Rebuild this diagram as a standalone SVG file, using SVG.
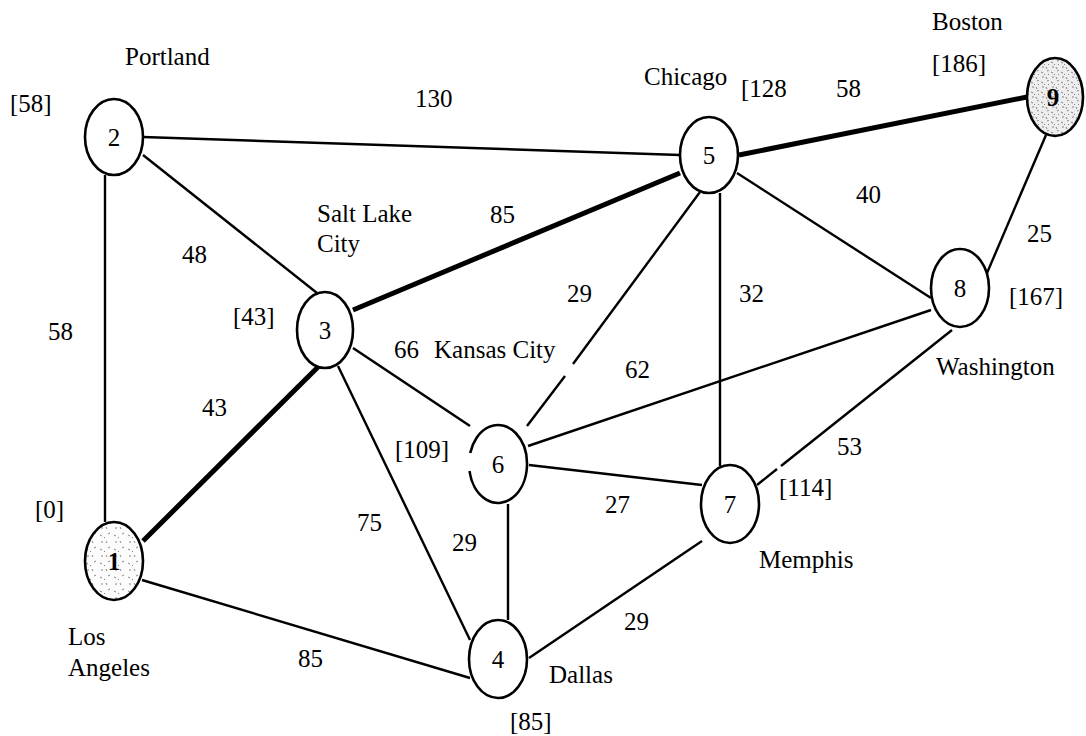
<svg xmlns="http://www.w3.org/2000/svg" width="1086" height="736" viewBox="0 0 1086 736">
<style>
text{font-family:"Liberation Serif","Times New Roman",serif;font-size:25px;fill:#000}
.n{text-anchor:middle}
.e{stroke:#000;stroke-width:2.4;fill:none;stroke-linecap:butt}
.t{stroke:#000;stroke-width:5;fill:none}
.node{fill:#fff;stroke:#000;stroke-width:2.6}
</style>
<defs>
<pattern id="sp1" width="14" height="14" patternUnits="userSpaceOnUse">
<rect width="14" height="14" fill="#fcfcfc"/>
<path d="M2 3l2 1M8 9l1 2M10 2l2-1M3 10l2 0M6 5l1 1" stroke="#666" stroke-width="0.8"/>
</pattern>
<pattern id="sp9" width="10" height="10" patternUnits="userSpaceOnUse">
<rect width="10" height="10" fill="#eeeeee"/>
<path d="M1 2l2 1M6 7l1 2M7 1l2-1M2 7l2 0M4 4l1 1M8 5l1-1" stroke="#555" stroke-width="0.7"/>
</pattern>
</defs>
<rect width="1086" height="736" fill="#fff"/>
<g id="edges">
<line class="e" x1="105" y1="175" x2="105" y2="522"/>
<line class="e" x1="143" y1="137" x2="680" y2="155"/>
<line class="e" x1="143" y1="155" x2="317" y2="293"/>
<line class="t" x1="143" y1="541" x2="318" y2="367"/>
<line class="e" x1="142" y1="580" x2="470" y2="678"/>
<line class="e" x1="338" y1="366" x2="470" y2="640"/>
<line class="t" x1="353" y1="310" x2="680" y2="173"/>
<line class="e" x1="353" y1="348" x2="470" y2="426"/>
<line class="e" x1="700" y1="192" x2="573" y2="364"/>
<line class="e" x1="565" y1="376" x2="527" y2="426"/>
<line class="e" x1="720" y1="193" x2="720" y2="466"/>
<line class="e" x1="737" y1="173" x2="931" y2="298"/>
<line class="t" x1="739" y1="155" x2="1027" y2="97"/>
<line class="e" x1="508" y1="504" x2="508" y2="620"/>
<line class="e" x1="529" y1="465" x2="702" y2="485"/>
<line class="e" x1="528" y1="446" x2="931" y2="310"/>
<line class="e" x1="529" y1="658" x2="702" y2="541"/>
<line class="e" x1="757" y1="485" x2="777" y2="469"/>
<line class="e" x1="781" y1="466" x2="952" y2="330"/>
<line class="e" x1="987" y1="273" x2="1046" y2="135"/>
</g>
<g id="node1"><ellipse class="node" cx="114" cy="561" rx="29" ry="39" style="fill:url(#sp1)"/><text class="n" x="114" y="570" font-weight="bold">1</text></g>
<g id="node2"><ellipse class="node" cx="114" cy="137" rx="29" ry="38"/><text class="n" x="114" y="146">2</text></g>
<g id="node3"><ellipse class="node" cx="325" cy="330" rx="28" ry="38"/><text class="n" x="325" y="339">3</text></g>
<g id="node4"><ellipse class="node" cx="498" cy="659" rx="29" ry="39"/><text class="n" x="498" y="668">4</text></g>
<g id="node5"><ellipse class="node" cx="709" cy="155" rx="29" ry="38"/><text class="n" x="709" y="164">5</text></g>
<g id="node6"><ellipse cx="498" cy="464" rx="29" ry="39" fill="#fff"/><path class="node" d="M470.2 453 A29 39 0 1 1 469.5 471" style="fill:none"/><text class="n" x="498" y="473">6</text></g>
<g id="node7"><ellipse class="node" cx="730" cy="504" rx="29" ry="39"/><text class="n" x="730" y="513">7</text></g>
<g id="node8"><ellipse class="node" cx="960" cy="288" rx="29" ry="39"/><text class="n" x="960" y="297">8</text></g>
<g id="node9"><ellipse class="node" cx="1055" cy="97" rx="28" ry="39" style="fill:url(#sp9)"/><text class="n" x="1053" y="106" font-weight="bold">9</text></g>
<g id="labels">
<text x="125" y="65">Portland</text>
<text x="10" y="112">[58]</text>
<text x="415" y="107">130</text>
<text x="644" y="85">Chicago</text>
<text x="741" y="97">[128</text>
<text x="836" y="97">58</text>
<text x="932" y="30">Boston</text>
<text x="932" y="72">[186]</text>
<text x="317" y="222">Salt Lake</text>
<text x="317" y="252">City</text>
<text x="490" y="223">85</text>
<text x="182" y="263">48</text>
<text x="856" y="203">40</text>
<text x="1027" y="242">25</text>
<text x="233" y="325">[43]</text>
<text x="48" y="340">58</text>
<text x="567" y="302">29</text>
<text x="739" y="302">32</text>
<text x="1009" y="305">[167]</text>
<text x="394" y="358">66</text>
<text x="434" y="358">Kansas City</text>
<text x="936" y="375">Washington</text>
<text x="625" y="378">62</text>
<text x="202" y="416">43</text>
<text x="395" y="458">[109]</text>
<text x="837" y="455">53</text>
<text x="779" y="496">[114]</text>
<text x="35" y="518">[0]</text>
<text x="357" y="531">75</text>
<text x="605" y="513">27</text>
<text x="452" y="551">29</text>
<text x="759" y="568">Memphis</text>
<text x="624" y="630">29</text>
<text x="68" y="645">Los</text>
<text x="68" y="676">Angeles</text>
<text x="298" y="667">85</text>
<text x="549" y="683">Dallas</text>
<text x="510" y="730">[85]</text>
</g>
</svg>
